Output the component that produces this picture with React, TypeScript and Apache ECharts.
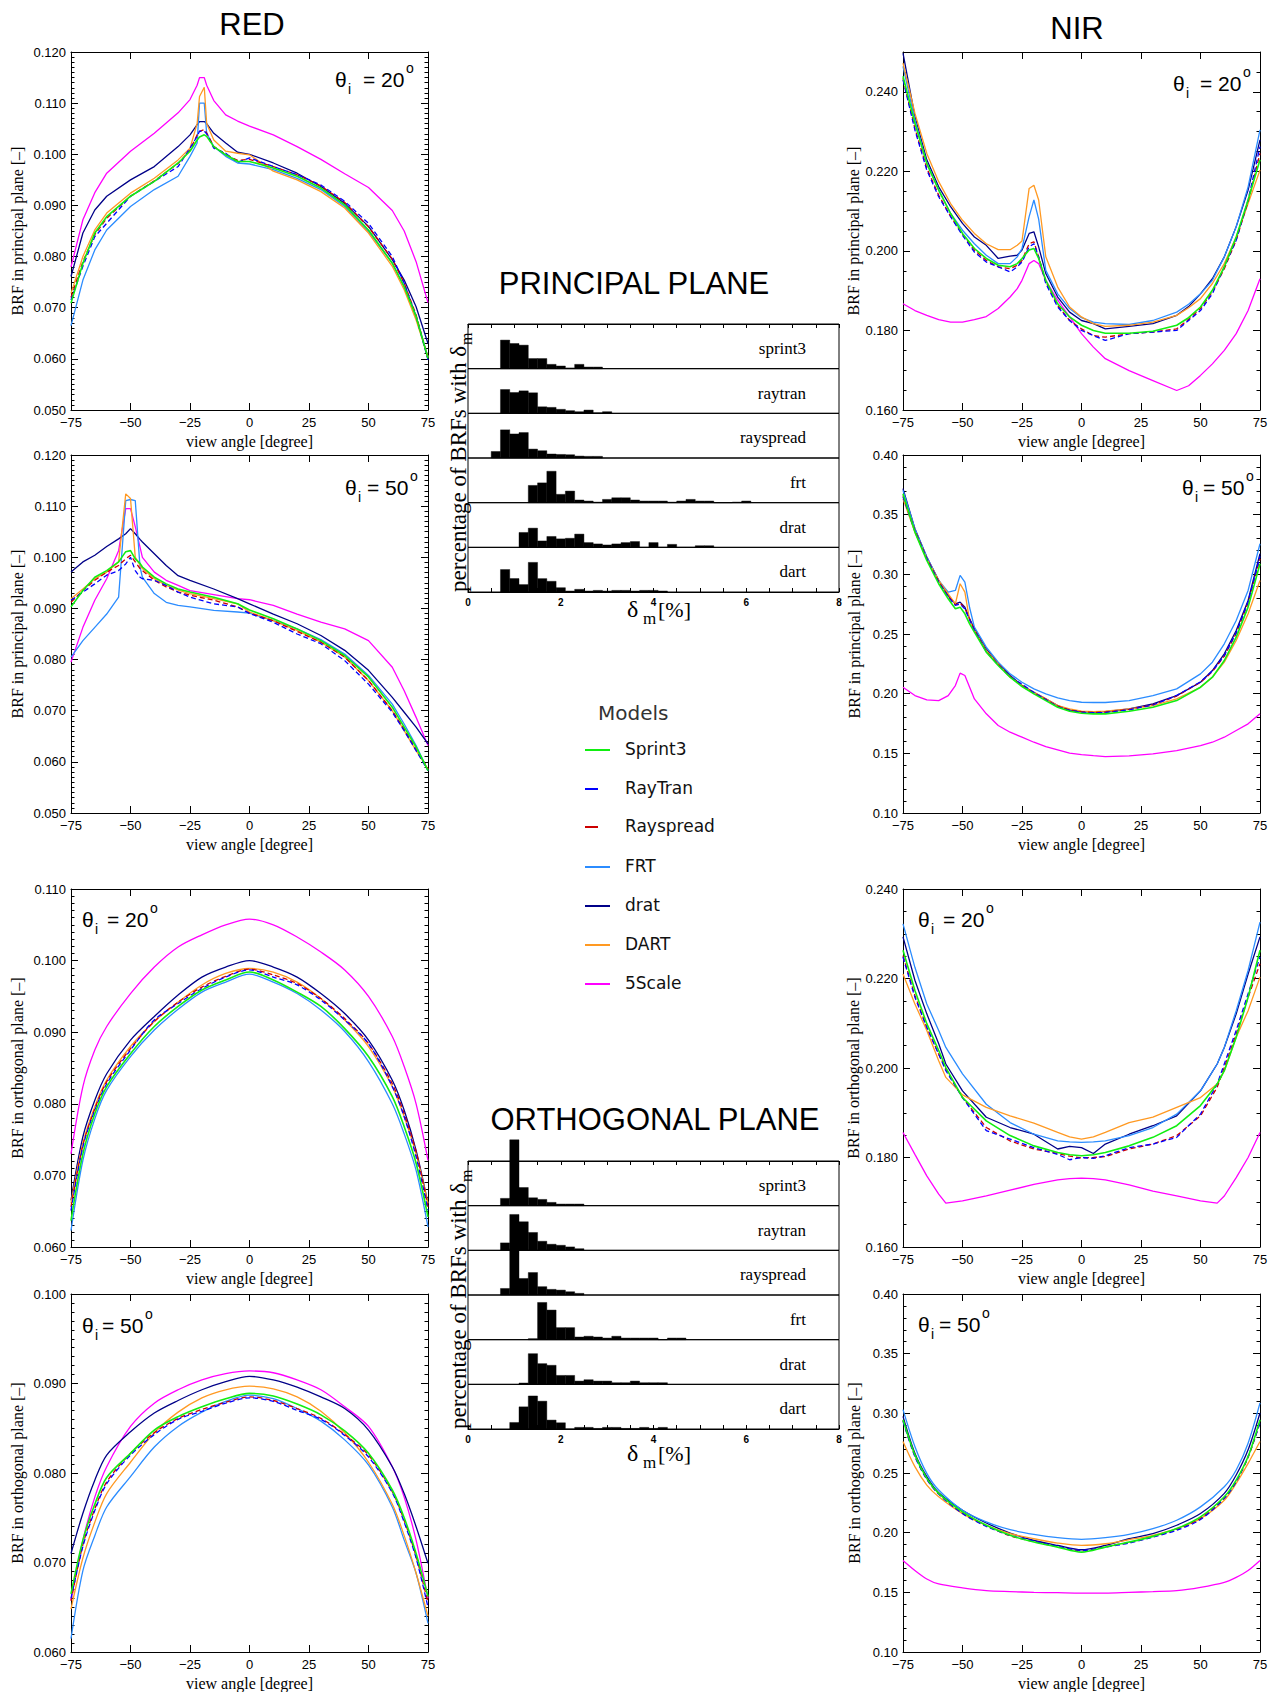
import React, { useEffect, useRef } from 'react';
import * as echarts from 'echarts';

const SANS = '"Liberation Sans", Arial, sans-serif';
const SERIF = '"Liberation Serif", "Times New Roman", serif';
const LEGF = '"DejaVu Sans", sans-serif';

// ---------------- Models ----------------
const MODELS = ['Sprint3', 'RayTran', 'Rayspread', 'FRT', 'drat', 'DART', '5Scale'];
const MODEL_COLORS = ['#11ee11', '#0000ff', '#cc0000', '#2b8cff', '#000088', '#ff9922', '#ff00ff'];
const MODEL_DASHED = [false, true, true, false, false, false, false];
const DRAW_ORDER = [6, 4, 3, 5, 2, 1, 0];

// ---------------- RED, principal plane, theta 20 ----------------
const redPP20Angles = [-75, -70, -65, -60, -50, -40, -30, -25, -22, -21, -19, -18, -15, -10, -5, 0, 10, 20, 30, 40, 50, 60, 65, 70, 75];
const redPP20Sprint3 = [0.0709, 0.0787, 0.0846, 0.0878, 0.0918, 0.0947, 0.0983, 0.1006, 0.1028, 0.1034, 0.1038, 0.1035, 0.1015, 0.0999, 0.0986, 0.0986, 0.0973, 0.0957, 0.0934, 0.0901, 0.0852, 0.0787, 0.0741, 0.0683, 0.0601];
const redPP20RayTran = [0.0715, 0.0781, 0.0839, 0.0865, 0.0918, 0.0947, 0.0976, 0.1012, 0.1035, 0.1045, 0.1045, 0.1040, 0.1012, 0.1002, 0.0984, 0.0993, 0.0976, 0.0960, 0.0940, 0.0908, 0.0865, 0.0800, 0.0748, 0.0683, 0.0598];
const redPP20Rayspread = [0.0720, 0.0790, 0.0843, 0.0875, 0.0918, 0.0948, 0.0982, 0.1008, 0.1038, 0.1045, 0.1048, 0.1042, 0.1015, 0.1000, 0.0988, 0.0990, 0.0976, 0.0960, 0.0938, 0.0906, 0.0858, 0.0795, 0.0748, 0.0686, 0.0600];
const redPP20FRT = [0.0665, 0.0754, 0.0813, 0.0852, 0.0898, 0.0931, 0.0957, 0.0996, 0.1022, 0.1100, 0.1100, 0.1041, 0.1015, 0.0996, 0.0983, 0.0981, 0.0970, 0.0953, 0.0931, 0.0898, 0.0849, 0.0787, 0.0741, 0.0683, 0.0604];
const redPP20Drat = [0.0761, 0.0846, 0.0891, 0.0918, 0.0950, 0.0976, 0.1015, 0.1038, 0.1058, 0.1064, 0.1064, 0.1060, 0.1041, 0.1022, 0.1004, 0.1000, 0.0983, 0.0963, 0.0937, 0.0904, 0.0859, 0.0794, 0.0754, 0.0702, 0.0630];
const redPP20DART = [0.0728, 0.0800, 0.0852, 0.0885, 0.0924, 0.0953, 0.0989, 0.1012, 0.1060, 0.1113, 0.1131, 0.1060, 0.1028, 0.1006, 0.1002, 0.0999, 0.0967, 0.0950, 0.0927, 0.0895, 0.0846, 0.0781, 0.0735, 0.0676, 0.0604];
const redPP205Scale = [0.0780, 0.0872, 0.0925, 0.0963, 0.1006, 0.1041, 0.1081, 0.1107, 0.1135, 0.1150, 0.1150, 0.1135, 0.1105, 0.1077, 0.1065, 0.1055, 0.1038, 0.1015, 0.0990, 0.0962, 0.0935, 0.0890, 0.0850, 0.0790, 0.0710];

// ---------------- RED, principal plane, theta 50 ----------------
const redPP50Angles = [-75, -70, -65, -60, -55, -52, -50, -48, -46, -45, -40, -35, -30, -25, -15, -5, 0, 10, 20, 30, 40, 50, 60, 65, 70, 75];
const redPP50Sprint3 = [0.0903, 0.0935, 0.0961, 0.0974, 0.0991, 0.1011, 0.1013, 0.0997, 0.0988, 0.0981, 0.0961, 0.0948, 0.0938, 0.0932, 0.0922, 0.0909, 0.0897, 0.0880, 0.0860, 0.0837, 0.0808, 0.0766, 0.0707, 0.0668, 0.0629, 0.0583];
const redPP50RayTran = [0.0916, 0.0932, 0.0948, 0.0965, 0.0974, 0.0987, 0.1000, 0.0974, 0.0961, 0.0958, 0.0955, 0.0945, 0.0932, 0.0922, 0.0909, 0.0903, 0.0890, 0.0873, 0.0850, 0.0831, 0.0798, 0.0752, 0.0697, 0.0661, 0.0622, 0.0583];
const redPP50Rayspread = [0.0912, 0.0935, 0.0955, 0.0971, 0.0984, 0.0997, 0.1004, 0.0991, 0.0978, 0.0974, 0.0955, 0.0942, 0.0932, 0.0926, 0.0916, 0.0903, 0.0891, 0.0876, 0.0855, 0.0834, 0.0805, 0.0759, 0.0700, 0.0664, 0.0625, 0.0586];
const redPP50FRT = [0.0805, 0.0837, 0.0863, 0.0889, 0.0922, 0.1111, 0.1113, 0.1111, 0.0981, 0.0961, 0.0929, 0.0912, 0.0906, 0.0903, 0.0896, 0.0893, 0.0891, 0.0876, 0.0860, 0.0839, 0.0811, 0.0769, 0.0713, 0.0674, 0.0632, 0.0583];
const redPP50Drat = [0.0971, 0.0991, 0.1004, 0.1021, 0.1036, 0.1046, 0.1056, 0.1046, 0.1035, 0.1030, 0.1007, 0.0984, 0.0964, 0.0955, 0.0938, 0.0919, 0.0909, 0.0889, 0.0870, 0.0847, 0.0818, 0.0779, 0.0726, 0.0697, 0.0668, 0.0635];
const redPP50DART = [0.0919, 0.0938, 0.0958, 0.0971, 0.0991, 0.1124, 0.1115, 0.1000, 0.0985, 0.0978, 0.0958, 0.0945, 0.0936, 0.0929, 0.0919, 0.0909, 0.0893, 0.0876, 0.0857, 0.0834, 0.0805, 0.0759, 0.0700, 0.0661, 0.0622, 0.0586];
const redPP505Scale = [0.0795, 0.0863, 0.0916, 0.0958, 0.1013, 0.1095, 0.1095, 0.1060, 0.1020, 0.1000, 0.0971, 0.0955, 0.0945, 0.0935, 0.0927, 0.0919, 0.0917, 0.0906, 0.0889, 0.0873, 0.0860, 0.0837, 0.0785, 0.0739, 0.0687, 0.0632];

// ---------------- NIR, principal plane, theta 20 ----------------
const nirPP20Angles = [-75, -70, -65, -60, -55, -50, -45, -40, -35, -30, -27, -25, -22, -20, -18, -15, -10, -5, 0, 5, 10, 20, 30, 40, 45, 50, 55, 60, 65, 70, 75];
const nirPP20Sprint3 = [0.2439, 0.2321, 0.2220, 0.2153, 0.2094, 0.2044, 0.2006, 0.1981, 0.1964, 0.1960, 0.1968, 0.1981, 0.2002, 0.2006, 0.1981, 0.1926, 0.1867, 0.1834, 0.1813, 0.1800, 0.1793, 0.1793, 0.1798, 0.1813, 0.1832, 0.1859, 0.1901, 0.1960, 0.2035, 0.2128, 0.2229];
const nirPP20RayTran = [0.2430, 0.2304, 0.2203, 0.2136, 0.2086, 0.2039, 0.1997, 0.1972, 0.1960, 0.1947, 0.1960, 0.1972, 0.2010, 0.2018, 0.1985, 0.1918, 0.1859, 0.1825, 0.1800, 0.1787, 0.1775, 0.1792, 0.1796, 0.1800, 0.1825, 0.1850, 0.1892, 0.1960, 0.2027, 0.2128, 0.2262];
const nirPP20Rayspread = [0.2434, 0.2308, 0.2208, 0.2140, 0.2087, 0.2042, 0.2002, 0.1976, 0.1960, 0.1955, 0.1964, 0.1976, 0.2018, 0.2023, 0.1985, 0.1922, 0.1863, 0.1825, 0.1804, 0.1787, 0.1783, 0.1792, 0.1796, 0.1804, 0.1828, 0.1855, 0.1897, 0.1955, 0.2027, 0.2124, 0.2245];
const nirPP20FRT = [0.2464, 0.2329, 0.2220, 0.2153, 0.2094, 0.2052, 0.2018, 0.1989, 0.1968, 0.1968, 0.1985, 0.2006, 0.2086, 0.2128, 0.2080, 0.1951, 0.1892, 0.1855, 0.1832, 0.1821, 0.1817, 0.1815, 0.1825, 0.1846, 0.1866, 0.1892, 0.1926, 0.1985, 0.2061, 0.2161, 0.2304];
const nirPP20Drat = [0.2497, 0.2338, 0.2229, 0.2161, 0.2111, 0.2069, 0.2035, 0.2014, 0.1981, 0.1987, 0.1989, 0.2002, 0.2044, 0.2048, 0.2010, 0.1943, 0.1884, 0.1846, 0.1825, 0.1817, 0.1804, 0.1810, 0.1817, 0.1838, 0.1860, 0.1892, 0.1930, 0.1985, 0.2061, 0.2153, 0.2279];
const nirPP20DART = [0.2472, 0.2346, 0.2245, 0.2174, 0.2119, 0.2077, 0.2044, 0.2018, 0.2003, 0.2003, 0.2014, 0.2025, 0.2157, 0.2165, 0.2128, 0.1985, 0.1909, 0.1859, 0.1834, 0.1817, 0.1810, 0.1813, 0.1821, 0.1838, 0.1857, 0.1880, 0.1918, 0.1968, 0.2035, 0.2119, 0.2203];
const nirPP205Scale = [0.1867, 0.1850, 0.1838, 0.1827, 0.1821, 0.1821, 0.1827, 0.1835, 0.1855, 0.1884, 0.1905, 0.1926, 0.1968, 0.1976, 0.1968, 0.1926, 0.1876, 0.1834, 0.1792, 0.1758, 0.1729, 0.1699, 0.1674, 0.1649, 0.1661, 0.1687, 0.1716, 0.1750, 0.1792, 0.1850, 0.1930];

// ---------------- NIR, principal plane, theta 50 ----------------
const nirPP50Angles = [-75, -70, -65, -60, -56, -53, -51, -49, -47, -45, -40, -35, -30, -25, -20, -15, -10, -5, 0, 5, 10, 20, 30, 40, 50, 55, 60, 65, 70, 75];
const nirPP50Sprint3 = [0.3676, 0.3354, 0.3117, 0.2921, 0.2795, 0.2711, 0.2725, 0.2669, 0.2585, 0.2516, 0.2348, 0.2236, 0.2138, 0.2060, 0.1998, 0.1942, 0.1886, 0.1853, 0.1836, 0.1831, 0.1831, 0.1853, 0.1886, 0.1942, 0.2054, 0.2138, 0.2278, 0.2474, 0.2725, 0.3089];
const nirPP50RayTran = [0.3650, 0.3360, 0.3130, 0.2935, 0.2810, 0.2740, 0.2750, 0.2710, 0.2620, 0.2530, 0.2350, 0.2240, 0.2140, 0.2080, 0.2010, 0.1950, 0.1890, 0.1860, 0.1845, 0.1840, 0.1842, 0.1865, 0.1905, 0.1985, 0.2100, 0.2190, 0.2320, 0.2510, 0.2770, 0.3150];
const nirPP50Rayspread = [0.3660, 0.3370, 0.3135, 0.2940, 0.2815, 0.2745, 0.2760, 0.2715, 0.2625, 0.2535, 0.2355, 0.2245, 0.2145, 0.2070, 0.2005, 0.1952, 0.1895, 0.1862, 0.1848, 0.1843, 0.1845, 0.1868, 0.1908, 0.1980, 0.2095, 0.2185, 0.2315, 0.2505, 0.2760, 0.3130];
const nirPP50FRT = [0.3704, 0.3382, 0.3145, 0.2949, 0.2851, 0.2865, 0.2991, 0.2935, 0.2720, 0.2557, 0.2390, 0.2264, 0.2166, 0.2096, 0.2040, 0.1998, 0.1965, 0.1942, 0.1928, 0.1926, 0.1926, 0.1942, 0.1984, 0.2040, 0.2166, 0.2264, 0.2418, 0.2613, 0.2865, 0.3256];
const nirPP50Drat = [0.3718, 0.3382, 0.3145, 0.2949, 0.2823, 0.2753, 0.2767, 0.2725, 0.2627, 0.2543, 0.2376, 0.2256, 0.2152, 0.2068, 0.2012, 0.1956, 0.1900, 0.1864, 0.1850, 0.1845, 0.1850, 0.1872, 0.1914, 0.1984, 0.2096, 0.2194, 0.2334, 0.2530, 0.2781, 0.3173];
const nirPP50DART = [0.3634, 0.3354, 0.3131, 0.2949, 0.2837, 0.2753, 0.2921, 0.2851, 0.2613, 0.2530, 0.2362, 0.2250, 0.2138, 0.2068, 0.2012, 0.1956, 0.1900, 0.1872, 0.1853, 0.1850, 0.1853, 0.1872, 0.1900, 0.1956, 0.2054, 0.2138, 0.2264, 0.2446, 0.2669, 0.2949];
const nirPP505Scale = [0.2054, 0.1984, 0.1948, 0.1942, 0.1984, 0.2068, 0.2172, 0.2152, 0.2054, 0.1956, 0.1831, 0.1733, 0.1677, 0.1635, 0.1593, 0.1557, 0.1529, 0.1501, 0.1490, 0.1481, 0.1473, 0.1478, 0.1495, 0.1523, 0.1565, 0.1593, 0.1635, 0.1691, 0.1747, 0.1831];

// ---------------- RED, orthogonal plane, theta 20 ----------------
const redOP20Angles = [-75, -70, -65, -60, -50, -40, -30, -20, -10, 0, 10, 20, 30, 40, 50, 60, 65, 70, 75];
const redOP20Sprint3 = [0.0637, 0.0730, 0.0786, 0.0824, 0.0870, 0.0908, 0.0936, 0.0959, 0.0973, 0.0984, 0.0973, 0.0956, 0.0936, 0.0905, 0.0866, 0.0810, 0.0768, 0.0717, 0.0642];
const redOP20RayTran = [0.0651, 0.0740, 0.0791, 0.0828, 0.0875, 0.0917, 0.0940, 0.0961, 0.0977, 0.0987, 0.0977, 0.0966, 0.0945, 0.0917, 0.0884, 0.0824, 0.0782, 0.0726, 0.0651];
const redOP20Rayspread = [0.0656, 0.0742, 0.0793, 0.0831, 0.0877, 0.0915, 0.0942, 0.0963, 0.0978, 0.0988, 0.0980, 0.0968, 0.0947, 0.0919, 0.0884, 0.0828, 0.0786, 0.0733, 0.0656];
const redOP20FRT = [0.0623, 0.0721, 0.0779, 0.0819, 0.0866, 0.0903, 0.0932, 0.0956, 0.0970, 0.0981, 0.0970, 0.0954, 0.0931, 0.0901, 0.0859, 0.0800, 0.0758, 0.0707, 0.0628];
const redOP20Drat = [0.0665, 0.0754, 0.0805, 0.0842, 0.0889, 0.0922, 0.0952, 0.0977, 0.0991, 0.1000, 0.0991, 0.0977, 0.0954, 0.0926, 0.0889, 0.0833, 0.0791, 0.0735, 0.0661];
const redOP20DART = [0.0661, 0.0745, 0.0796, 0.0833, 0.0880, 0.0915, 0.0942, 0.0966, 0.0982, 0.0989, 0.0984, 0.0970, 0.0947, 0.0917, 0.0880, 0.0824, 0.0782, 0.0730, 0.0661];
const redOP205Scale = [0.0730, 0.0824, 0.0875, 0.0908, 0.0954, 0.0991, 0.1019, 0.1036, 0.1050, 0.1058, 0.1050, 0.1033, 0.1012, 0.0987, 0.0950, 0.0894, 0.0852, 0.0800, 0.0721];

// ---------------- RED, orthogonal plane, theta 50 ----------------
const redOP50Angles = [-75, -70, -65, -60, -50, -40, -30, -20, -10, 0, 10, 20, 30, 40, 50, 60, 65, 70, 75];
const redOP50Sprint3 = [0.0665, 0.0725, 0.0765, 0.0795, 0.0822, 0.0848, 0.0863, 0.0874, 0.0883, 0.0889, 0.0886, 0.0877, 0.0865, 0.0847, 0.0822, 0.0781, 0.0750, 0.0710, 0.0662];
const redOP50RayTran = [0.0660, 0.0718, 0.0758, 0.0788, 0.0820, 0.0843, 0.0860, 0.0869, 0.0878, 0.0884, 0.0880, 0.0870, 0.0860, 0.0842, 0.0818, 0.0778, 0.0745, 0.0705, 0.0650];
const redOP50Rayspread = [0.0657, 0.0720, 0.0760, 0.0790, 0.0822, 0.0845, 0.0861, 0.0871, 0.0879, 0.0885, 0.0881, 0.0872, 0.0861, 0.0843, 0.0820, 0.0779, 0.0747, 0.0707, 0.0655];
const redOP50FRT = [0.0615, 0.0691, 0.0730, 0.0762, 0.0796, 0.0829, 0.0852, 0.0868, 0.0880, 0.0887, 0.0883, 0.0872, 0.0858, 0.0837, 0.0809, 0.0762, 0.0725, 0.0688, 0.0632];
const redOP50Drat = [0.0710, 0.0755, 0.0792, 0.0820, 0.0846, 0.0867, 0.0881, 0.0893, 0.0902, 0.0908, 0.0904, 0.0896, 0.0885, 0.0872, 0.0848, 0.0807, 0.0777, 0.0740, 0.0699];
const redOP50DART = [0.0648, 0.0705, 0.0745, 0.0777, 0.0812, 0.0845, 0.0868, 0.0884, 0.0893, 0.0897, 0.0894, 0.0885, 0.0869, 0.0845, 0.0812, 0.0765, 0.0730, 0.0688, 0.0640];
const redOP505Scale = [0.0658, 0.0725, 0.0773, 0.0807, 0.0852, 0.0878, 0.0893, 0.0904, 0.0911, 0.0914, 0.0912, 0.0904, 0.0893, 0.0874, 0.0852, 0.0807, 0.0773, 0.0725, 0.0660];

// ---------------- NIR, orthogonal plane, theta 20 ----------------
const nirOP20Angles = [-75, -70, -65, -60, -57, -50, -40, -30, -20, -10, -5, 0, 5, 10, 20, 30, 40, 50, 57, 60, 65, 70, 75];
const nirOP20Sprint3 = [0.2263, 0.2173, 0.2099, 0.2039, 0.2001, 0.1934, 0.1882, 0.1849, 0.1826, 0.1811, 0.1806, 0.1804, 0.1806, 0.1811, 0.1826, 0.1845, 0.1871, 0.1916, 0.1964, 0.1994, 0.2069, 0.2158, 0.2263];
const nirOP20RayTran = [0.2248, 0.2158, 0.2091, 0.2031, 0.1994, 0.1934, 0.1860, 0.1841, 0.1822, 0.1807, 0.1795, 0.1800, 0.1798, 0.1804, 0.1822, 0.1830, 0.1845, 0.1897, 0.1964, 0.2009, 0.2084, 0.2166, 0.2248];
const nirOP20Rayspread = [0.2251, 0.2162, 0.2091, 0.2031, 0.1998, 0.1934, 0.1867, 0.1837, 0.1819, 0.1809, 0.1803, 0.1799, 0.1800, 0.1802, 0.1819, 0.1830, 0.1849, 0.1893, 0.1957, 0.2001, 0.2076, 0.2158, 0.2233];
const nirOP20FRT = [0.2322, 0.2225, 0.2143, 0.2084, 0.2046, 0.1987, 0.1919, 0.1878, 0.1852, 0.1837, 0.1835, 0.1834, 0.1835, 0.1837, 0.1849, 0.1867, 0.1897, 0.1949, 0.2009, 0.2046, 0.2128, 0.2218, 0.2326];
const nirOP20Drat = [0.2293, 0.2196, 0.2121, 0.2054, 0.2009, 0.1949, 0.1890, 0.1867, 0.1852, 0.1819, 0.1825, 0.1822, 0.1809, 0.1830, 0.1852, 0.1871, 0.1893, 0.1949, 0.2009, 0.2046, 0.2121, 0.2210, 0.2293];
const nirOP20DART = [0.2210, 0.2143, 0.2084, 0.2016, 0.1979, 0.1940, 0.1912, 0.1893, 0.1877, 0.1856, 0.1846, 0.1841, 0.1846, 0.1856, 0.1878, 0.1890, 0.1912, 0.1934, 0.1964, 0.1994, 0.2069, 0.2128, 0.2203];
const nirOP205Scale = [0.1856, 0.1807, 0.1759, 0.1718, 0.1698, 0.1703, 0.1714, 0.1727, 0.1740, 0.1750, 0.1753, 0.1754, 0.1753, 0.1750, 0.1739, 0.1725, 0.1714, 0.1703, 0.1698, 0.1714, 0.1755, 0.1800, 0.1856];

// ---------------- NIR, orthogonal plane, theta 50 ----------------
const nirOP50Angles = [-75, -70, -65, -60, -50, -40, -30, -20, -10, 0, 10, 20, 30, 40, 50, 60, 65, 70, 75];
const nirOP50Sprint3 = [0.2947, 0.2652, 0.2455, 0.2329, 0.2174, 0.2062, 0.1978, 0.1921, 0.1879, 0.1837, 0.1879, 0.1921, 0.1969, 0.2034, 0.2132, 0.2301, 0.2441, 0.2638, 0.2947];
const nirOP50RayTran = [0.2933, 0.2638, 0.2447, 0.2323, 0.2160, 0.2053, 0.1978, 0.1930, 0.1885, 0.1851, 0.1879, 0.1913, 0.1963, 0.2020, 0.2110, 0.2287, 0.2427, 0.2638, 0.2919];
const nirOP50Rayspread = [0.2940, 0.2645, 0.2450, 0.2325, 0.2165, 0.2058, 0.1975, 0.1925, 0.1882, 0.1848, 0.1882, 0.1918, 0.1966, 0.2028, 0.2120, 0.2293, 0.2433, 0.2630, 0.2925];
const nirOP50FRT = [0.3031, 0.2722, 0.2497, 0.2357, 0.2188, 0.2090, 0.2025, 0.1986, 0.1958, 0.1944, 0.1958, 0.1986, 0.2034, 0.2104, 0.2216, 0.2385, 0.2525, 0.2750, 0.3087];
const nirOP50Drat = [0.2975, 0.2666, 0.2469, 0.2334, 0.2188, 0.2081, 0.1997, 0.1935, 0.1893, 0.1857, 0.1893, 0.1949, 0.1992, 0.2062, 0.2160, 0.2329, 0.2483, 0.2694, 0.3003];
const nirOP50DART = [0.2764, 0.2553, 0.2399, 0.2301, 0.2160, 0.2062, 0.1992, 0.1949, 0.1913, 0.1893, 0.1907, 0.1941, 0.1978, 0.2034, 0.2118, 0.2272, 0.2413, 0.2581, 0.2764];
const nirOP505Scale = [0.1767, 0.1683, 0.1612, 0.1570, 0.1537, 0.1514, 0.1506, 0.1500, 0.1497, 0.1494, 0.1494, 0.1500, 0.1506, 0.1514, 0.1542, 0.1584, 0.1626, 0.1683, 0.1767];

// ---------------- Histograms (percentage of BRFs, bins of 0.2 %) ----------------
const BIN = 0.2;
const HIST_NAMES = ['sprint3', 'raytran', 'rayspread', 'frt', 'drat', 'dart'];
const ppStarts = [0.7, 0.7, 0.5, 1.3, 1.1, 0.7];
const ppSprint3 = [19.2, 16.9, 15.8, 6.8, 6.8, 2.9, 1.8, 0.5, 2.9, 1.1, 1.1];
const ppRaytran = [16.0, 14.0, 15.1, 13.8, 4.4, 4.0, 2.7, 1.8, 1.1, 2.2, 0.4, 1.1];
const ppRayspread = [4.4, 18.9, 16.2, 17.1, 6.0, 4.9, 2.7, 2.4, 2.2, 1.3, 1.1, 1.1];
const ppFrt = [11.6, 13.3, 21.1, 5.6, 7.8, 1.8, 1.1, 0.4, 2.2, 3.3, 3.3, 1.8, 1.1, 1.1, 1.1, 0.4, 1.1, 2.2, 1.1, 1.1, 0, 0, 0.4, 1.1];
const ppDrat = [10.0, 12.9, 4.3, 7.3, 5.7, 6.1, 8.9, 3.2, 2.3, 1.6, 2.3, 3.2, 3.9, 0, 3.2, 0, 2.0, 0, 0, 1.1, 1.1];
const ppDart = [15.1, 9.0, 5.0, 19.9, 9.0, 7.2, 2.9, 0.7, 1.8, 0.7, 1.1, 0.7, 1.1, 1.1, 0.7, 1.1, 1.1, 0.7];
const opStarts = [0.7, 0.7, 0.7, 1.3, 1.1, 0.9];
const opSprint3 = [4.9, 44.2, 12.2, 5.3, 4.2, 2.2, 1.1, 1.1, 1.1];
const opRaytran = [5.0, 24.1, 19.2, 12.0, 6.1, 4.1, 3.4, 2.3, 1.1];
const opRayspread = [4.4, 31.0, 11.1, 15.1, 5.6, 3.8, 3.3, 2.2, 1.1];
const opFrt = [0.7, 25.0, 19.9, 8.1, 8.1, 1.8, 2.3, 1.8, 1.1, 2.3, 1.1, 1.1, 1.1, 1.1, 0, 1.1, 1.1];
const opDrat = [0.9, 20.6, 13.9, 12.8, 6.0, 6.0, 2.2, 3.1, 2.2, 2.2, 1.1, 1.1, 2.2, 1.1, 1.1, 1.1];
const opDart = [4.4, 14.9, 22.2, 18.7, 6.0, 4.2, 0, 1.1, 1.1, 0.4, 1.1, 1.1, 0.4, 0.4, 1.1, 0.4, 1.1];

// ---------------- Layout ----------------
const PANELS = [
  { left: 71, top: 52, ymin: 0.05, ymax: 0.12, yint: 0.01, dec: 3, minor: 10, gap: 46, yname: 'BRF in principal plane [–]', angles: redPP20Angles, vals: [redPP20Sprint3, redPP20RayTran, redPP20Rayspread, redPP20FRT, redPP20Drat, redPP20DART, redPP205Scale], smooth: 0, th: { x: 335, cy: 79, eq: 363, v: '20' } },
  { left: 71, top: 455, ymin: 0.05, ymax: 0.12, yint: 0.01, dec: 3, minor: 10, gap: 46, yname: 'BRF in principal plane [–]', angles: redPP50Angles, vals: [redPP50Sprint3, redPP50RayTran, redPP50Rayspread, redPP50FRT, redPP50Drat, redPP50DART, redPP505Scale], smooth: 0, th: { x: 345, cy: 487, eq: 367, v: '50' } },
  { left: 903, top: 52, ymin: 0.16, ymax: 0.25, yint: 0.02, dec: 3, minor: 4, gap: 41, yname: 'BRF in principal plane [–]', angles: nirPP20Angles, vals: [nirPP20Sprint3, nirPP20RayTran, nirPP20Rayspread, nirPP20FRT, nirPP20Drat, nirPP20DART, nirPP205Scale], smooth: 0, th: { x: 1173, cy: 83, eq: 1200, v: '20' } },
  { left: 903, top: 455, ymin: 0.1, ymax: 0.4, yint: 0.05, dec: 2, minor: 5, gap: 41, yname: 'BRF in principal plane [–]', angles: nirPP50Angles, vals: [nirPP50Sprint3, nirPP50RayTran, nirPP50Rayspread, nirPP50FRT, nirPP50Drat, nirPP50DART, nirPP505Scale], smooth: 0, th: { x: 1182, cy: 487, eq: 1203, v: '50' } },
  { left: 71, top: 889, ymin: 0.06, ymax: 0.11, yint: 0.01, dec: 3, minor: 10, gap: 46, yname: 'BRF in orthogonal plane [–]', angles: redOP20Angles, vals: [redOP20Sprint3, redOP20RayTran, redOP20Rayspread, redOP20FRT, redOP20Drat, redOP20DART, redOP205Scale], smooth: 0.3, th: { x: 82, cy: 919, eq: 107, v: '20' } },
  { left: 71, top: 1294, ymin: 0.06, ymax: 0.10, yint: 0.01, dec: 3, minor: 10, gap: 46, yname: 'BRF in orthogonal plane [–]', angles: redOP50Angles, vals: [redOP50Sprint3, redOP50RayTran, redOP50Rayspread, redOP50FRT, redOP50Drat, redOP50DART, redOP505Scale], smooth: 0.3, th: { x: 82, cy: 1325, eq: 102, v: '50' } },
  { left: 903, top: 889, ymin: 0.16, ymax: 0.24, yint: 0.02, dec: 3, minor: 4, gap: 41, yname: 'BRF in orthogonal plane [–]', angles: nirOP20Angles, vals: [nirOP20Sprint3, nirOP20RayTran, nirOP20Rayspread, nirOP20FRT, nirOP20Drat, nirOP20DART, nirOP205Scale], smooth: 0, th: { x: 918, cy: 919, eq: 943, v: '20' } },
  { left: 903, top: 1294, ymin: 0.1, ymax: 0.4, yint: 0.05, dec: 2, minor: 5, gap: 41, yname: 'BRF in orthogonal plane [–]', angles: nirOP50Angles, vals: [nirOP50Sprint3, nirOP50RayTran, nirOP50Rayspread, nirOP50FRT, nirOP50Drat, nirOP50DART, nirOP505Scale], smooth: 0.3, th: { x: 918, cy: 1324, eq: 939, v: '50' } },
];
const PW = 357;
const PH = 358;

const HISTS = [
  { top: 324, starts: ppStarts, vals: [ppSprint3, ppRaytran, ppRayspread, ppFrt, ppDrat, ppDart] },
  { top: 1161, starts: opStarts, vals: [opSprint3, opRaytran, opRayspread, opFrt, opDrat, opDart] },
];
const HL = 468;
const HW = 371;
const HSUB = 44.67;

function txt(x: number, y: number, text: string, size: number, family: string, align = 'left', extra: any = {}) {
  const fill = extra.fill || '#000';
  const rest = { ...extra };
  delete rest.fill;
  return {
    type: 'text', x, y, silent: true, ...rest,
    style: { text, fontSize: size, fontFamily: family, fill, align, verticalAlign: 'middle', textAlign: align, textVerticalAlign: 'middle' },
  };
}

function buildOption() {
  const grid: any[] = [];
  const xAxis: any[] = [];
  const yAxis: any[] = [];
  const series: any[] = [];
  const graphic: any[] = [];
  const topAxes: any[] = [];
  const black = { color: '#000', width: 1 };

  PANELS.forEach((p, i) => {
    grid.push({ left: p.left, top: p.top, width: PW, height: PH, containLabel: false });
    const isMult = (v: number) => Math.abs(v / p.yint - Math.round(v / p.yint)) < 1e-6;
    xAxis.push({
      gridIndex: i, type: 'value', position: 'bottom', min: -75, max: 75, interval: 25,
      axisLine: { show: true, onZero: false, lineStyle: black },
      axisTick: { show: true, inside: true, length: 7, lineStyle: black },
      axisLabel: { show: true, margin: 6, fontSize: 13, fontFamily: SANS, color: '#000', formatter: (v: number) => (v < 0 ? '\u2212' + Math.abs(v) : String(v)) },
      splitLine: { show: false },
      name: 'view angle [degree]', nameLocation: 'middle', nameGap: 23,
      nameTextStyle: { fontFamily: SERIF, fontSize: 16, color: '#000' },
    });
    xAxis.push({
      gridIndex: i, type: 'value', position: 'top', min: -75, max: 75, interval: 25,
      axisLine: { show: true, onZero: false, lineStyle: black },
      axisTick: { show: true, inside: true, length: 7, lineStyle: black },
      axisLabel: { show: false }, splitLine: { show: false },
    });
    yAxis.push({
      gridIndex: i, type: 'value', position: 'left', min: p.ymin, max: p.ymax, interval: p.yint,
      axisLine: { show: true, onZero: false, lineStyle: black },
      axisTick: { show: true, inside: true, length: 7, lineStyle: black },
      minorTick: { show: true, splitNumber: p.minor, length: 3.5, lineStyle: black },
      axisLabel: { show: true, margin: 5, fontSize: 13, fontFamily: SANS, color: '#000', formatter: (v: number) => (isMult(v) ? v.toFixed(p.dec) : '') },
      splitLine: { show: false }, minorSplitLine: { show: false },
      name: p.yname, nameLocation: 'middle', nameRotate: 90, nameGap: p.gap,
      nameTextStyle: { fontFamily: SERIF, fontSize: 16, color: '#000' },
    });
    yAxis.push({
      gridIndex: i, type: 'value', position: 'right', min: p.ymin, max: p.ymax, interval: p.yint,
      axisLine: { show: true, onZero: false, lineStyle: black },
      axisTick: { show: true, inside: true, length: 7, lineStyle: black },
      minorTick: { show: true, splitNumber: p.minor, length: 3.5, lineStyle: black },
      axisLabel: { show: false }, splitLine: { show: false }, minorSplitLine: { show: false },
    });
    DRAW_ORDER.forEach((m, zi) => {
      const vals = p.vals[m];
      series.push({
        type: 'line', name: MODELS[m], xAxisIndex: 2 * i, yAxisIndex: 2 * i,
        data: p.angles.map((a, k) => [a, vals[k]]),
        showSymbol: false, symbol: 'none', silent: true, smooth: p.smooth,
        lineStyle: { color: MODEL_COLORS[m], width: m === 0 ? 1.6 : 1.3, type: MODEL_DASHED[m] ? [5, 3] : 'solid' },
        z: 2 + zi,
      });
    });
    const t = p.th;
    graphic.push(txt(t.x, t.cy, 'θ', 21, SANS));
    graphic.push(txt(t.x + 13, t.cy + 10, 'i', 14, SANS));
    graphic.push(txt(t.eq, t.cy, '= ' + t.v, 21, SANS));
    graphic.push(txt(t.eq + 43, t.cy - 11, 'o', 14, SANS));
  });

  // Histograms
  HISTS.forEach((h, hi) => {
    h.vals.forEach((vals, k) => {
      const gi = 8 + hi * 6 + k;
      grid.push({ left: HL, top: h.top + k * HSUB, width: HW, height: HSUB, show: true, borderColor: '#000', borderWidth: 1, backgroundColor: 'rgba(0,0,0,0)' });
      const last = k === 5;
      xAxis.push({
        gridIndex: gi, type: 'value', position: 'bottom', min: 0, max: 8, interval: 2,
        show: last,
        axisLine: { show: true, onZero: false, lineStyle: black },
        axisTick: { show: true, inside: true, length: 4, lineStyle: black },
        minorTick: { show: true, splitNumber: 4, length: 4, lineStyle: black },
        axisLabel: { show: true, margin: 5, fontSize: 10, fontWeight: 'bold', fontFamily: SANS, color: '#000' },
        splitLine: { show: false }, minorSplitLine: { show: false },
      });
      yAxis.push({ gridIndex: gi, type: 'value', min: 0, max: 30, show: false, splitLine: { show: false } });
      const start = h.starts[k];
      series.push({
        type: 'custom', coordinateSystem: 'cartesian2d', xAxisIndex: 16 + hi * 6 + k, yAxisIndex: 16 + hi * 6 + k,
        data: vals.map((v, j) => [start + j * BIN, v]),
        encode: { x: 0, y: 1 }, clip: false, silent: true,
        renderItem: (params: any, api: any) => {
          const x0 = api.value(0) as number;
          const hv = api.value(1) as number;
          const a = api.coord([x0, hv]);
          const b = api.coord([x0 + BIN, 0]);
          return { type: 'rect', shape: { x: a[0], y: a[1], width: b[0] - a[0], height: b[1] - a[1] }, style: { fill: '#000', stroke: '#000', lineWidth: 0.4 } };
        },
      });
      graphic.push(txt(806, h.top + k * HSUB + HSUB / 2 + 2, HIST_NAMES[k], 17, SERIF, 'right'));
    });
    topAxes.push({
      gridIndex: 8 + hi * 6, type: 'value', position: 'top', min: 0, max: 8, interval: 2,
      axisLine: { show: true, onZero: false, lineStyle: black },
      axisTick: { show: true, inside: true, length: 4, lineStyle: black },
      minorTick: { show: true, splitNumber: 4, length: 4, lineStyle: black },
      axisLabel: { show: false }, splitLine: { show: false }, minorSplitLine: { show: false },
    });
  });
  topAxes.forEach((a) => xAxis.push(a));

  // Histogram axis titles
  const histLabel = (bottom: number, cy: number) => {
    graphic.push(txt(627, cy, 'δ', 24, SERIF));
    graphic.push(txt(643, cy + 9, 'm', 17, SERIF));
    graphic.push(txt(658, cy, '[%]', 22, SERIF));
    graphic.push({
      type: 'text', x: 458, y: bottom - 246, rotation: Math.PI / 2, silent: true,
      style: { text: 'percentage of BRFs with δ', fontSize: 23, fontFamily: SERIF, fill: '#000', align: 'right', verticalAlign: 'middle', textAlign: 'right', textVerticalAlign: 'middle' },
    });
    graphic.push({
      type: 'text', x: 466, y: bottom - 247, rotation: Math.PI / 2, silent: true,
      style: { text: 'm', fontSize: 16, fontFamily: SERIF, fill: '#000', align: 'left', verticalAlign: 'middle', textAlign: 'left', textVerticalAlign: 'middle' },
    });
  };
  histLabel(592, 609);
  histLabel(1429, 1453);

  // Titles
  graphic.push(txt(252, 24, 'RED', 31, SANS, 'center'));
  graphic.push(txt(1077, 28, 'NIR', 31, SANS, 'center'));
  graphic.push(txt(634, 283, 'PRINCIPAL PLANE', 31, SANS, 'center'));
  graphic.push(txt(655, 1119, 'ORTHOGONAL PLANE', 31, SANS, 'center'));

  // Legend
  graphic.push(txt(598, 713, 'Models', 20, LEGF, 'left', { fill: '#333' }));
  const legY = [750, 789, 827, 867, 906, 945, 984];
  MODELS.forEach((m, i) => {
    const len = MODEL_DASHED[i] ? 13 : 25;
    graphic.push({ type: 'line', silent: true, shape: { x1: 585, y1: legY[i], x2: 585 + len, y2: legY[i] }, style: { stroke: MODEL_COLORS[i], lineWidth: 2 } });
    graphic.push(txt(625, legY[i] - 1, m, 17, LEGF, 'left', { fill: '#111' }));
  });

  return { animation: false, backgroundColor: '#fff', grid, xAxis, yAxis, series, graphic };
}

export default function App() {
  const ref = useRef<HTMLDivElement>(null);
  useEffect(() => {
    if (!ref.current) return;
    const chart = echarts.init(ref.current, null, { renderer: 'svg' });
    chart.setOption(buildOption() as any);
    return () => chart.dispose();
  }, []);
  return <div ref={ref} style={{ position: 'absolute', left: 0, top: 0, width: 1278, height: 1692, background: '#fff' }} />;
}
